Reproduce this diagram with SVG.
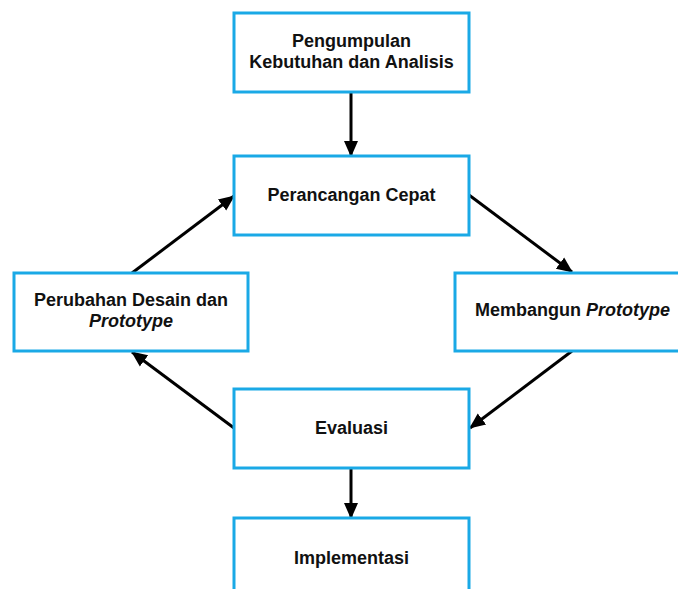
<svg xmlns="http://www.w3.org/2000/svg" width="678" height="589" viewBox="0 0 678 589">
<defs>
<marker id="ah" markerUnits="userSpaceOnUse" markerWidth="16" markerHeight="16" viewBox="0 0 16 16" refX="15" refY="8" orient="auto">
<path d="M0,1 L16,8 L0,15 Z" fill="#000"/>
</marker>
<style>
.box{fill:#fff;stroke:#1aa9e6;stroke-width:3}
.t{font-family:"Liberation Sans",Arial,sans-serif;font-weight:bold;font-size:18px;fill:#111;text-anchor:middle}
.i{font-style:italic}
.c{stroke:#000;stroke-width:3;fill:none;marker-end:url(#ah)}
</style>
</defs>
<rect width="678" height="589" fill="#fff"/>
<g id="connectors">
<line class="c" x1="351" y1="92" x2="351" y2="156"/>
<line class="c" x1="469" y1="195" x2="572" y2="272"/>
<line class="c" x1="572" y1="351" x2="470" y2="428"/>
<line class="c" x1="234" y1="428" x2="132" y2="352"/>
<line class="c" x1="132" y1="273" x2="234" y2="196"/>
<line class="c" x1="351" y1="468" x2="351" y2="518"/>
</g>
<g id="n1">
<rect class="box" x="234" y="13" width="235" height="79"/>
<text class="t" x="351.5" y="47">Pengumpulan</text>
<text class="t" x="351.5" y="68">Kebutuhan dan Analisis</text>
</g>
<g id="n2">
<rect class="box" x="234" y="156" width="235" height="79"/>
<text class="t" x="351.5" y="201">Perancangan Cepat</text>
</g>
<g id="n3">
<rect class="box" x="455" y="273" width="235" height="78"/>
<text class="t" x="572.5" y="316">Membangun <tspan class="i">Prototype</tspan></text>
</g>
<g id="n4">
<rect class="box" x="14" y="273" width="234" height="78"/>
<text class="t" x="131" y="306">Perubahan Desain dan</text>
<text class="t i" x="131" y="327">Prototype</text>
</g>
<g id="n5">
<rect class="box" x="234" y="389" width="235" height="79"/>
<text class="t" x="351.5" y="434">Evaluasi</text>
</g>
<g id="n6">
<rect class="box" x="234" y="518" width="235" height="79"/>
<text class="t" x="351.5" y="564">Implementasi</text>
</g>
</svg>
